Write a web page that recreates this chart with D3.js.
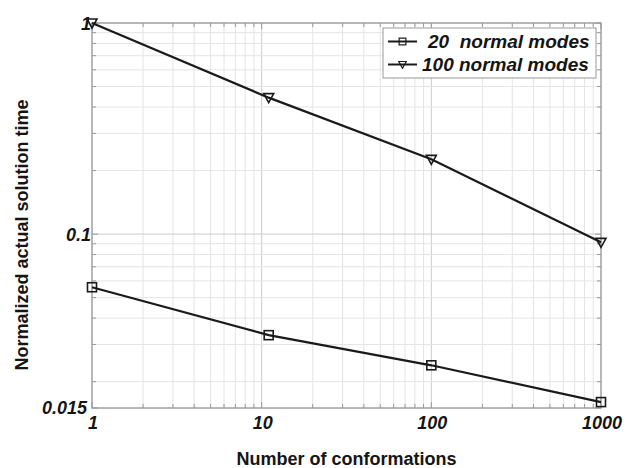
<!DOCTYPE html>
<html>
<head>
<meta charset="utf-8">
<script src="https://cdn.jsdelivr.net/npm/d3@7"></script>
<style>
  body { margin: 0; background: #fff; }
  svg { display: block; font-family: "Liberation Sans", Arial, sans-serif; }
</style>
</head>
<body>
<div class="chart"></div>
<script>
const width = 626;
const height = 468;
const margin = { top: 23, right: 25, bottom: 60, left: 92 };

// data
const conformations = [1, 11, 100, 1000];
const modes20 = [0.056, 0.0332, 0.0239, 0.0160];
const modes100 = [1.0, 0.443, 0.226, 0.0914];
const seriesNames = ["20  normal modes", "100 normal modes"];
const xTicks = [1, 10, 100, 1000];
const yTicks = [0.015, 0.1, 1];
const yTickLabels = ["0.015", "0.1", "1"];

const svg = d3.select(".chart")
  .append("svg")
  .attr("width", width)
  .attr("height", height);

const x = d3.scaleLog().domain([1, 1000]).range([margin.left, width - margin.right]);
const y = d3.scaleLog().domain([0.015, 1]).range([height - margin.bottom, margin.top]);

// minor grid values
const xGrid = [];
[1, 10, 100].forEach(d => { for (let k = 1; k < 10; k++) xGrid.push(d * k); });
xGrid.push(1000);
const yGrid = [0.015];
[0.01, 0.1].forEach(d => { for (let k = 2; k <= 10; k++) if (d * k > 0.015) yGrid.push(d * k); });

const grid = svg.append("g").attr("class", "grid");
grid.selectAll("line.gx")
  .data(xGrid)
  .join("line")
  .attr("class", "gx")
  .attr("x1", d => x(d)).attr("x2", d => x(d))
  .attr("y1", y(1)).attr("y2", y(0.015))
  .attr("stroke", d => xTicks.includes(d) ? "#cccccc" : "#e4e4e4")
  .attr("stroke-width", 1);
grid.selectAll("line.gy")
  .data(yGrid)
  .join("line")
  .attr("class", "gy")
  .attr("x1", x(1)).attr("x2", x(1000))
  .attr("y1", d => y(d)).attr("y2", d => y(d))
  .attr("stroke", d => yTicks.includes(d) ? "#cccccc" : "#e4e4e4")
  .attr("stroke-width", 1);

// frame
svg.append("rect")
  .attr("x", x(1)).attr("y", y(1))
  .attr("width", x(1000) - x(1))
  .attr("height", y(0.015) - y(1))
  .attr("fill", "none")
  .attr("stroke", "#a8a8a8")
  .attr("stroke-width", 1.5);

// inner ticks
const ticks = svg.append("g");
ticks.selectAll("line.tb")
  .data(xGrid)
  .join("line")
  .attr("class", "tb")
  .attr("x1", d => x(d)).attr("x2", d => x(d))
  .attr("y1", y(0.015)).attr("y2", d => y(0.015) - (xTicks.includes(d) ? 6 : 4))
  .attr("stroke", "#999");
ticks.selectAll("line.tt")
  .data(xGrid)
  .join("line")
  .attr("class", "tt")
  .attr("x1", d => x(d)).attr("x2", d => x(d))
  .attr("y1", y(1)).attr("y2", d => y(1) + (xTicks.includes(d) ? 6 : 4))
  .attr("stroke", "#999");
ticks.selectAll("line.tl")
  .data(yGrid)
  .join("line")
  .attr("class", "tl")
  .attr("x1", x(1)).attr("x2", d => x(1) + (yTicks.includes(d) ? 6 : 4))
  .attr("y1", d => y(d)).attr("y2", d => y(d))
  .attr("stroke", "#999");
ticks.selectAll("line.tr")
  .data(yGrid)
  .join("line")
  .attr("class", "tr")
  .attr("x1", x(1000)).attr("x2", d => x(1000) - (yTicks.includes(d) ? 6 : 4))
  .attr("y1", d => y(d)).attr("y2", d => y(d))
  .attr("stroke", "#999");

// tick labels
svg.append("g")
  .selectAll("text")
  .data(xTicks)
  .join("text")
  .attr("x", d => x(d) + 1)
  .attr("y", y(0.015) + 21)
  .attr("text-anchor", "middle")
  .attr("font-size", 18)
  .attr("font-weight", "bold")
  .attr("font-style", "italic")
  .attr("fill", "#151515")
  .text(d => d);

svg.append("g")
  .selectAll("text")
  .data(yTicks)
  .join("text")
  .attr("x", d => d === 0.015 ? x(1) - 5 : x(1) - 1)
  .attr("y", d => y(d) + (d === 0.015 ? 5.5 : 6.5))
  .attr("text-anchor", "end")
  .attr("font-size", 18)
  .attr("font-weight", "bold")
  .attr("font-style", "italic")
  .attr("fill", "#151515")
  .text((d, i) => yTickLabels[i]);

// axis titles
svg.append("text")
  .attr("x", (x(1) + x(1000)) / 2)
  .attr("y", 465)
  .attr("text-anchor", "middle")
  .attr("font-size", 18)
  .attr("font-weight", "bold")
  .attr("fill", "#151515")
  .text("Number of conformations");

svg.append("text")
  .attr("transform", `translate(28, 235) rotate(-90)`)
  .attr("text-anchor", "middle")
  .attr("font-size", 18)
  .attr("font-weight", "bold")
  .attr("fill", "#151515")
  .text("Normalized actual solution time");

// lines
const line = d3.line()
  .x((d, i) => x(conformations[i]))
  .y(d => y(d));

const series = [modes20, modes100];
svg.append("g")
  .selectAll("path")
  .data(series)
  .join("path")
  .attr("d", d => line(d))
  .attr("fill", "none")
  .attr("stroke", "#1a1a1a")
  .attr("stroke-width", 2.2);

const triangle = "M-5,-4 L5,-4 L0,5 Z";

function drawMarker(g, kind) {
  if (kind === 0) {
    g.append("rect")
      .attr("x", -4.5).attr("y", -4.5).attr("width", 9).attr("height", 9)
      .attr("fill", "none").attr("stroke", "#1a1a1a").attr("stroke-width", 1.6);
  } else {
    g.append("path")
      .attr("d", triangle)
      .attr("fill", "none").attr("stroke", "#1a1a1a").attr("stroke-width", 1.6);
  }
}

series.forEach((s, k) => {
  s.forEach((v, i) => {
    const g = svg.append("g").attr("transform", `translate(${x(conformations[i])}, ${y(v)})`);
    drawMarker(g, k);
  });
});

// legend
const legend = svg.append("g").attr("transform", "translate(383, 28)");
legend.append("rect")
  .attr("width", 213).attr("height", 50)
  .attr("fill", "#fff")
  .attr("stroke", "#999")
  .attr("stroke-width", 1);

seriesNames.forEach((name, k) => {
  const row = legend.append("g").attr("transform", `translate(0, ${13.5 + k * 23})`);
  row.append("line")
    .attr("x1", 5).attr("x2", 34)
    .attr("stroke", "#1a1a1a").attr("stroke-width", 2);
  const m = row.append("g").attr("transform", "translate(19.5,0) scale(0.75)");
  drawMarker(m, k);
  row.append("text")
    .attr("x", k === 0 ? 45 : 39)
    .attr("y", 6.5)
    .attr("font-size", 19)
    .attr("font-weight", "bold")
    .attr("font-style", "italic")
    .attr("fill", "#151515")
    .attr("xml:space", "preserve")
    .text(name);
});
</script>
</body>
</html>
